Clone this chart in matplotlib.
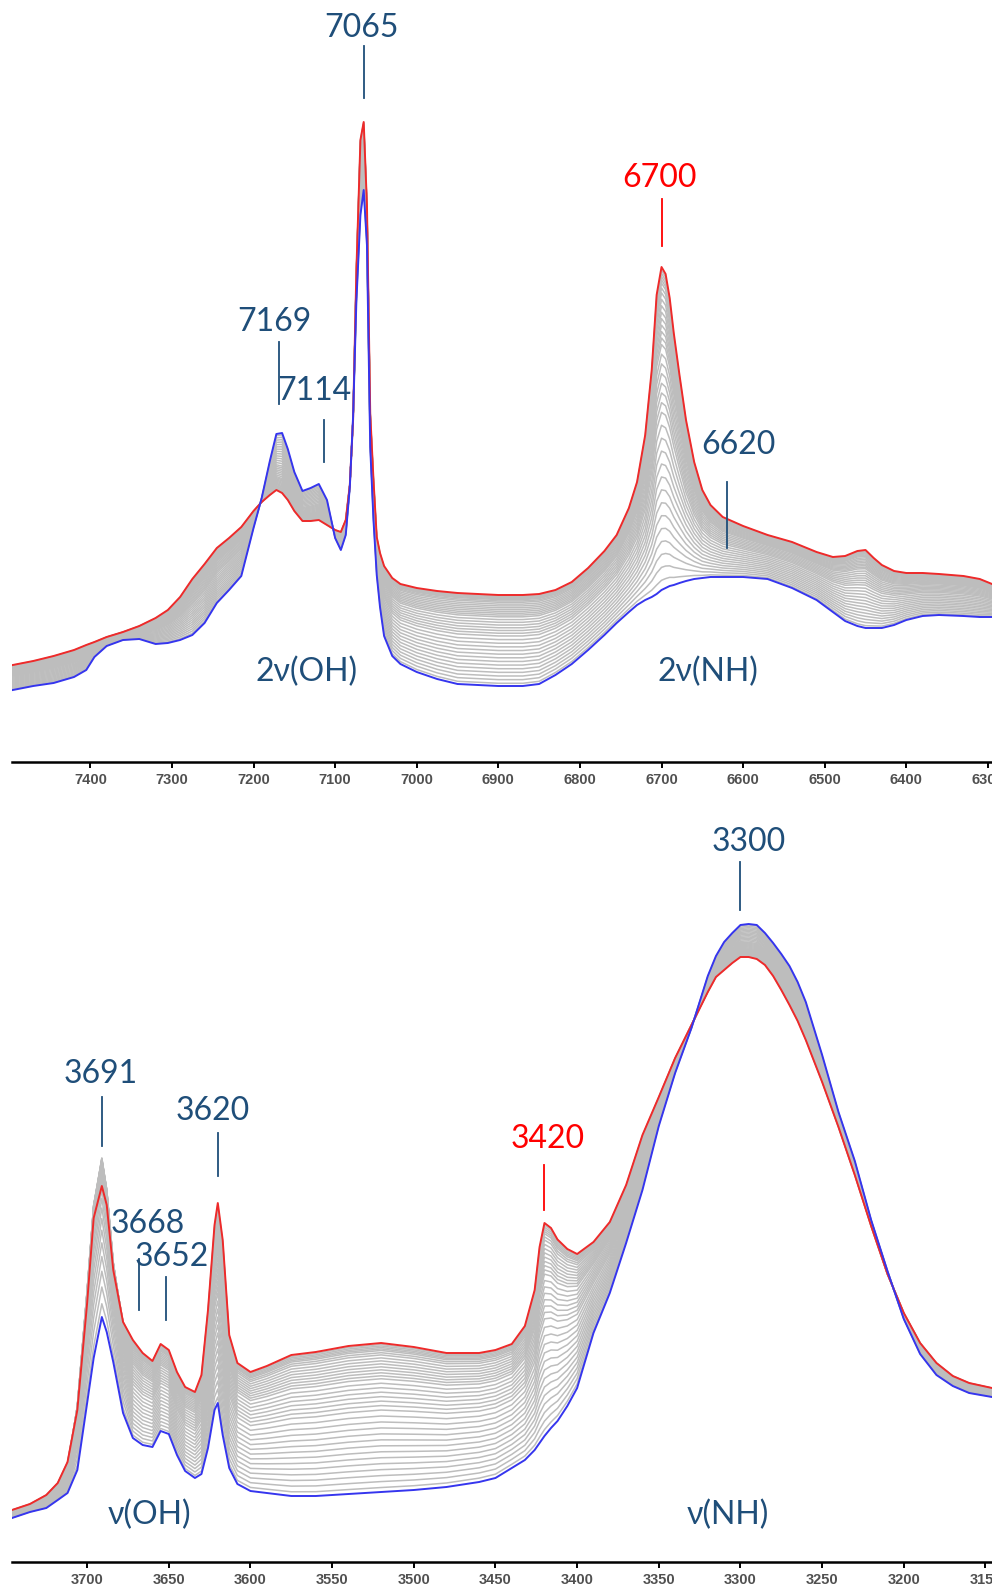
import numpy as np
import matplotlib.pyplot as plt

# ---- overtone region, 2v(OH) / 2v(NH) ----
wn_nir = [7495, 7470, 7445, 7420, 7405, 7395, 7380, 7360, 7340, 7320,
          7305, 7290, 7275, 7260, 7245, 7230, 7215, 7200, 7190, 7180,
          7172, 7165, 7158, 7150, 7140, 7130, 7120, 7110, 7100, 7093,
          7087, 7082, 7078, 7074, 7069, 7065, 7061, 7057, 7053, 7049,
          7045, 7040, 7030, 7020, 7010, 7000, 6975, 6950, 6900, 6870,
          6850, 6830, 6810, 6790, 6770, 6755, 6740, 6730, 6720, 6712,
          6706, 6700, 6695, 6690, 6685, 6678, 6670, 6660, 6650, 6640,
          6625, 6600, 6570, 6540, 6510, 6490, 6475, 6460, 6450, 6440,
          6430, 6415, 6400, 6380, 6360, 6330, 6310, 6295]
red_nir = [0.194, 0.202, 0.212, 0.224, 0.234, 0.240, 0.250, 0.260, 0.272, 0.288,
           0.304, 0.330, 0.366, 0.396, 0.428, 0.448, 0.470, 0.502, 0.520, 0.534,
           0.544, 0.538, 0.524, 0.502, 0.482, 0.482, 0.484, 0.474, 0.464, 0.460,
           0.484, 0.554, 0.684, 0.980, 1.244, 1.280, 1.114, 0.698, 0.564, 0.450,
           0.418, 0.392, 0.368, 0.356, 0.352, 0.348, 0.342, 0.338, 0.334, 0.334,
           0.336, 0.344, 0.360, 0.388, 0.422, 0.454, 0.508, 0.560, 0.654, 0.784,
           0.934, 0.990, 0.976, 0.928, 0.858, 0.774, 0.684, 0.600, 0.544, 0.514,
           0.490, 0.472, 0.454, 0.440, 0.420, 0.410, 0.412, 0.422, 0.424, 0.408,
           0.394, 0.382, 0.378, 0.378, 0.376, 0.372, 0.366, 0.356]
blue_nir = [0.144, 0.152, 0.158, 0.170, 0.184, 0.210, 0.232, 0.244, 0.246, 0.236,
            0.238, 0.244, 0.254, 0.278, 0.318, 0.344, 0.372, 0.468, 0.528, 0.602,
            0.656, 0.658, 0.626, 0.580, 0.542, 0.548, 0.556, 0.524, 0.448, 0.424,
            0.454, 0.550, 0.690, 0.920, 1.094, 1.144, 1.034, 0.630, 0.484, 0.374,
            0.310, 0.252, 0.212, 0.196, 0.188, 0.180, 0.166, 0.156, 0.152, 0.152,
            0.156, 0.174, 0.196, 0.224, 0.254, 0.278, 0.300, 0.314, 0.324, 0.330,
            0.336, 0.344, 0.348, 0.352, 0.354, 0.358, 0.362, 0.366, 0.368, 0.370,
            0.370, 0.370, 0.366, 0.348, 0.324, 0.300, 0.282, 0.272, 0.268, 0.268,
            0.268, 0.274, 0.284, 0.292, 0.294, 0.292, 0.290, 0.290]

# ---- fundamental region, v(OH) / v(NH) ----
wn_mir = [3746, 3735, 3725, 3718, 3712, 3706, 3700, 3696, 3691, 3688,
          3684, 3678, 3672, 3666, 3660, 3655, 3650, 3645, 3640, 3634,
          3630, 3626, 3622, 3620, 3617, 3613, 3608, 3600, 3590, 3575,
          3560, 3540, 3520, 3500, 3480, 3460, 3450, 3440, 3432, 3426,
          3423, 3420, 3416, 3412, 3406, 3400, 3390, 3380, 3370, 3360,
          3350, 3340, 3330, 3320, 3315, 3310, 3305, 3300, 3295, 3290,
          3285, 3280, 3275, 3270, 3265, 3260, 3250, 3240, 3230, 3220,
          3210, 3200, 3190, 3180, 3170, 3160, 3146]
red_mir = [0.104, 0.116, 0.134, 0.158, 0.200, 0.304, 0.518, 0.688, 0.752, 0.714,
           0.584, 0.480, 0.444, 0.418, 0.402, 0.436, 0.424, 0.380, 0.350, 0.340,
           0.374, 0.504, 0.674, 0.718, 0.644, 0.454, 0.398, 0.380, 0.392, 0.414,
           0.420, 0.432, 0.438, 0.430, 0.418, 0.418, 0.424, 0.436, 0.472, 0.544,
           0.630, 0.678, 0.668, 0.645, 0.626, 0.616, 0.640, 0.680, 0.754, 0.854,
           0.930, 1.008, 1.074, 1.140, 1.170, 1.184, 1.198, 1.210, 1.210, 1.206,
           1.194, 1.172, 1.144, 1.114, 1.082, 1.044, 0.960, 0.870, 0.774, 0.672,
           0.576, 0.498, 0.438, 0.398, 0.372, 0.358, 0.348]
blue_mir = [0.088, 0.100, 0.108, 0.124, 0.138, 0.184, 0.318, 0.408, 0.490, 0.460,
            0.400, 0.298, 0.248, 0.234, 0.230, 0.262, 0.256, 0.214, 0.182, 0.168,
            0.176, 0.228, 0.304, 0.318, 0.254, 0.188, 0.156, 0.142, 0.138, 0.132,
            0.132, 0.136, 0.140, 0.144, 0.150, 0.160, 0.168, 0.188, 0.204, 0.224,
            0.238, 0.252, 0.268, 0.282, 0.312, 0.348, 0.458, 0.538, 0.638, 0.744,
            0.872, 0.978, 1.068, 1.172, 1.212, 1.240, 1.258, 1.274, 1.276, 1.274,
            1.258, 1.238, 1.216, 1.192, 1.160, 1.120, 1.014, 0.900, 0.802, 0.684,
            0.582, 0.486, 0.416, 0.374, 0.352, 0.338, 0.330]

# intermediate spectra rise above the last one on the 3691 band
bump_wn = [3712, 3700, 3691, 3684, 3672]
bump_mir = [0.0, 0.10, 0.16, 0.08, 0.0]

# position of each intermediate spectrum between the first (blue) and last (red)
grey_frac = [0.03, 0.07, 0.11, 0.15, 0.19, 0.23, 0.27, 0.31, 0.35, 0.39,
             0.43, 0.47, 0.51, 0.55, 0.58, 0.61, 0.64, 0.67, 0.70, 0.73,
             0.76, 0.78, 0.80, 0.82, 0.84, 0.86, 0.88, 0.90, 0.92, 0.935,
             0.95, 0.96, 0.97, 0.98, 0.99]

# peak labels: (wavenumber, label x, label y, line bottom, line top, colour)
DARK = '#1f4e79'
RED = '#ff0000'
peaks_nir = [(7065, 7068, 1.468, 1.328, 1.432, DARK),
             (7169, 7174, 0.880, 0.716, 0.840, DARK),
             (7114, 7125, 0.742, 0.600, 0.684, DARK),
             (6700, 6703, 1.168, 1.032, 1.126, RED),
             (6620, 6606, 0.634, 0.428, 0.560, DARK)]
peaks_mir = [(3300, 3295, 1.440, 1.304, 1.400, DARK),
             (3691, 3692, 0.976, 0.832, 0.930, DARK),
             (3620, 3623, 0.902, 0.772, 0.858, DARK),
             (3668, 3663, 0.676, 0.504, 0.606, DARK),
             (3652, 3648, 0.610, 0.484, 0.570, DARK),
             (3420, 3418, 0.846, 0.704, 0.794, RED)]

LABEL_FONT = ['Lato', 'DejaVu Sans']


def draw_panel(ax, wn, red, blue, bump, xlim, ylim, ticks, peaks, bands):
    wn = np.asarray(wn, float)
    red = np.asarray(red)
    blue = np.asarray(blue)
    for t in grey_frac:
        grey = blue + t * (red - blue) + 4 * t * (1 - t) * bump
        ax.plot(wn, grey, color='#bdbdbd', lw=1.1, zorder=1)
    ax.plot(wn, red, color='#ee2a2a', lw=1.4, zorder=3)
    ax.plot(wn, blue, color='#3535ee', lw=1.4, zorder=4)

    for pos, tx, ty, y0, y1, col in peaks:
        ax.plot([pos, pos], [y0, y1], color=col, lw=1.3, zorder=5)
        ax.text(tx, ty, str(pos), color=col, fontsize=23, ha='center',
                va='center', family=LABEL_FONT)
    for name, tx, ty in bands:
        ax.text(tx, ty, name, color=DARK, fontsize=23, ha='center',
                va='center', family=LABEL_FONT)

    ax.set_xlim(*xlim)
    ax.set_ylim(*ylim)
    for side in ['left', 'right', 'top']:
        ax.spines[side].set_visible(False)
    ax.spines['bottom'].set_linewidth(1.8)
    ax.set_yticks([])
    ax.set_xticks(ticks)
    ax.tick_params(axis='x', direction='out', length=4, width=1.4, pad=4,
                   labelsize=10.5, labelcolor='#505050')
    for lab in ax.get_xticklabels():
        lab.set_family('Liberation Sans')
        lab.set_weight('bold')


fig = plt.figure(figsize=(9.92, 15.86), dpi=100)
ax_top = fig.add_axes([12 / 992, 824 / 1586, 980 / 992, 762 / 1586])
ax_bot = fig.add_axes([12 / 992, 24 / 1586, 980 / 992, 772 / 1586])

draw_panel(ax_top, wn_nir, red_nir, blue_nir, 0.0,
           (7496, 6295), (0, 1.524), np.arange(7400, 6250, -100), peaks_nir,
           [('2ν(OH)', 7135, 0.18), ('2ν(NH)', 6643, 0.18)])

bump = np.interp(np.asarray(wn_mir)[::-1], bump_wn[::-1], bump_mir[::-1],
                 left=0, right=0)[::-1]
draw_panel(ax_bot, wn_mir, red_mir, blue_mir, bump,
           (3746, 3146), (0, 1.544), np.arange(3700, 3149, -50), peaks_mir,
           [('ν(OH)', 3662, 0.094), ('ν(NH)', 3308, 0.094)])

fig.savefig('out.png', dpi=100)
